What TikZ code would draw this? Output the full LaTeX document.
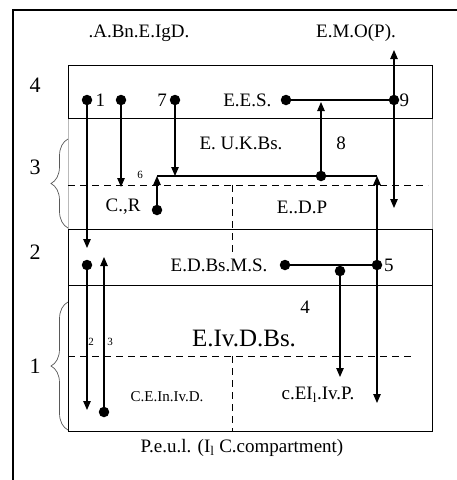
\documentclass[tikz,border=0pt]{standalone}
\usepackage{fontspec}
\setmainfont{Liberation Serif}
\usetikzlibrary{positioning,arrows.meta,decorations.pathreplacing}

\begin{document}
\begin{tikzpicture}[
    x=1pt, y=-1pt,
    font=\fontsize{19}{21}\selectfont,
    layer/.style={
        draw,
        line width=1.4pt,
        anchor=north west,
        minimum width=364pt,
        inner sep=0pt
    },
    midlayer/.style={layer, draw=gray!55, line width=0.7pt},
    split/.style={dash pattern=on 7pt off 5pt, line width=1pt},
    dot/.style={circle, fill, inner sep=0pt, minimum size=10.5pt},
    arrow/.style={-{Triangle[length=9pt,width=7.5pt]}, line width=1.1pt},
    link/.style={line width=1.1pt},
    txt/.style={inner sep=1pt},
    num/.style={inner sep=1pt, font=\fontsize{19}{21}\selectfont},
    smallnum/.style={inner sep=1pt, font=\fontsize{11}{12}\selectfont},
    smalltxt/.style={inner sep=1pt, font=\fontsize{15}{16}\selectfont},
    bigtxt/.style={inner sep=1pt, font=\fontsize{25}{27}\selectfont},
    rowno/.style={inner sep=1pt, font=\fontsize{22}{24}\selectfont},
    curly/.style={decorate, decoration={brace, amplitude=17pt},
        line width=0.7pt, draw=gray!70!black}
]
\useasboundingbox (0,0) rectangle (457,480);

% ============================================================
% RAMKA I WARSTWY
% ============================================================
\draw[line width=1.2pt] (13,480) -- (13,10) -- (457,10);

\node[midlayer, minimum height=111pt] (r3) at (68,118) {};
\node[layer, minimum height=53pt] (r4) at (68,65) {};
\node[layer, minimum height=56pt] (r2) at (68,229) {};
\node[layer, minimum height=146pt] (r1) at (68,285) {};

% podzialy
\draw[split] (68,185) -- (428,185);
\draw[split] (232,185) -- (232,252);
\draw[split] (68,356) -- (413,356);
\draw[split] (232,356) -- (232,431);

% klamry i numery warstw
\draw[curly] (68,228) -- (68,139);
\draw[curly] (68,430) -- (68,302);
\node[rowno] (l4) at (35,85) {4};
\node[rowno] (l3) at (35,167) {3};
\node[rowno] (l2) at (35,252) {2};
\node[rowno] (l1) at (35,366) {1};

% ============================================================
% PUNKTY I OPISY
% ============================================================
\node[txt] (abn) at (139,33) {.A.Bn.E.IgD.};
\node[txt] (emo) at (356,33) {E.M.O(P).};

\node[dot] (d1) at (87,100) {};
\node[num, right=2pt of d1] (n1) {1};
\node[dot] (d2) at (121,100) {};
\node[dot] (d7) at (175,100) {};
\node[num, left=1.5pt of d7] (n7) {7};
\node[dot] (dES) at (286,100) {};
\node[txt, left=8pt of dES] (ees) {E.E.S.};
\node[dot] (d9) at (394,100) {};
\node[num, right=-1pt of d9] (n9) {9};

\node[txt] (ukbs) at (241,143) {E. U.K.Bs.};
\node[num] (n8) at (341,143) {8};
\node[smallnum] (n6) at (140,175) {6};
\node[txt] (cr) at (123,207) {C.,R};
\node[txt] (edp) at (302,207) {E..D.P};
\node[dot] (d8) at (321,176) {};
\node[dot] (d6) at (157,210) {};

\node[dot] (dA) at (87,265) {};
\node[dot] (dMS) at (285,265) {};
\node[txt, left=11pt of dMS] (edbs) {E.D.Bs.M.S.};
\node[dot] (d5) at (377,265) {};
\node[num, right=0.5pt of d5] (n5) {5};
\node[dot] (d4) at (340,271) {};

\node[num] (n4) at (305,307) {4};
\node[bigtxt] (eiv) at (244,338) {E.Iv.D.Bs.};
\node[smallnum] (n2) at (91,342) {2};
\node[smallnum] (n3) at (110,342) {3};
\node[dot] (dB) at (104,412) {};
\node[smalltxt] (cein) at (167,397) {C.E.In.Iv.D.};
\node[txt] (ceil) at (318,395) {c.EI\textsubscript{l}.Iv.P.};

\node[txt] (peul) at (242,448) {P.e.u.l. (I\textsubscript{l} C.compartment)};

% ============================================================
% POLACZENIA
% ============================================================
\coordinate (a1) at (87,248);
\coordinate (aA) at (87,410);
\coordinate (aB) at (104,257);
\coordinate (a2) at (121,187);
\coordinate (a7) at (175,176);
\coordinate (k6) at (157,176);
\coordinate (k5) at (377,176);
\coordinate (a8) at (321,102);
\coordinate (a9u) at (394,50);
\coordinate (a9d) at (394,208);
\coordinate (a5) at (377,403);
\coordinate (a4) at (340,377);

\draw[arrow] (d1) -- (a1);
\draw[arrow] (dA) -- (aA);
\draw[arrow] (dB) -- (aB);
\draw[arrow] (d2) -- (a2);
\draw[arrow] (d7) -- (a7);
\draw[link] (k6) -- (k5);
\draw[arrow] (d6) -- (k6);
\draw[arrow] (d8) -- (a8);
\draw[link] (dES) -- (d9);
\draw[arrow] (d9) -- (a9u);
\draw[arrow] (d9) -- (a9d);
\draw[arrow] (d5) -- (k5);
\draw[arrow] (d5) -- (a5);
\draw[link] (dMS) -- (d5);
\draw[arrow] (d4) -- (a4);

\end{tikzpicture}
\end{document}
